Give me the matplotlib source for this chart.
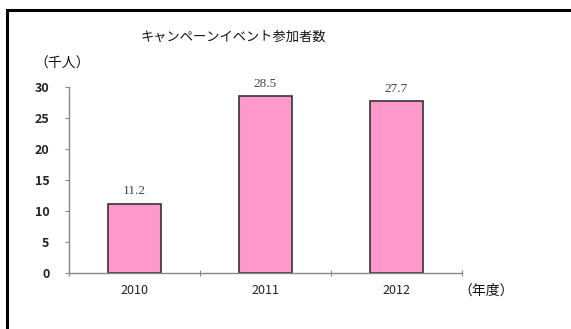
import matplotlib
matplotlib.use('Agg')
from matplotlib import pyplot as plt
from matplotlib.patches import Rectangle

plt.rcParams['font.family'] = ['Noto Sans CJK JP', 'DejaVu Sans']

years = ['2010', '2011', '2012']
visitors = [11.2, 28.5, 27.7]
yticks = [0, 5, 10, 15, 20, 25, 30]

fig = plt.figure(figsize=(5.71, 3.29), dpi=100)
fig.patches.append(Rectangle((7 / 571, -0.1), 1.2, 1 - 10 / 329 + 0.1,
                             transform=fig.transFigure, fill=False,
                             edgecolor='black', linewidth=2.2))

ax = fig.add_axes([69 / 571, 1 - 273 / 329, 393 / 571, 186 / 329])
x = range(len(years))
bars = ax.bar(x, visitors, width=0.4, color='#ff99cc', edgecolor='#333333', linewidth=1.2)
for xi, v in zip(x, visitors):
    ax.text(xi, v + 1.0, '%.1f' % v, ha='center', va='bottom', fontsize=9.5,
            family='Liberation Serif', color='#444444')

ax.set_xlim(-0.5, 2.5)
ax.set_ylim(0, 30)
ax.set_yticks(yticks)
ax.set_yticklabels([str(t) for t in yticks], fontsize=9, fontweight='bold', color='#222222')
ax.set_xticks([-0.5, 0.5, 1.5, 2.5])
ax.set_xticklabels([])
ax.set_xticks(list(x), minor=True)
ax.set_xticklabels(years, minor=True, fontsize=9, color='#222222')
ax.tick_params(axis='x', which='major', direction='inout', length=5, color='#888888')
ax.tick_params(axis='x', which='minor', length=0, pad=8)
ax.tick_params(axis='y', direction='out', length=3, color='#888888', pad=11)
for s in ['top', 'right']:
    ax.spines[s].set_visible(False)
for s in ['left', 'bottom']:
    ax.spines[s].set_color('#888888')
    ax.spines[s].set_linewidth(1)

fig.text(233 / 571, 1 - 37 / 329, 'キャンペーンイベント参加者数', ha='center', va='center',
         fontsize=9.5, color='#111111')
fig.text(62 / 571, 1 - 64 / 329, '（千人）', ha='center', va='center', fontsize=10,
         color='#111111')
fig.text(486 / 571, 1 - 291 / 329, '（年度）', ha='center', va='center', fontsize=10,
         color='#111111')

fig.savefig('out.png', dpi=100)
